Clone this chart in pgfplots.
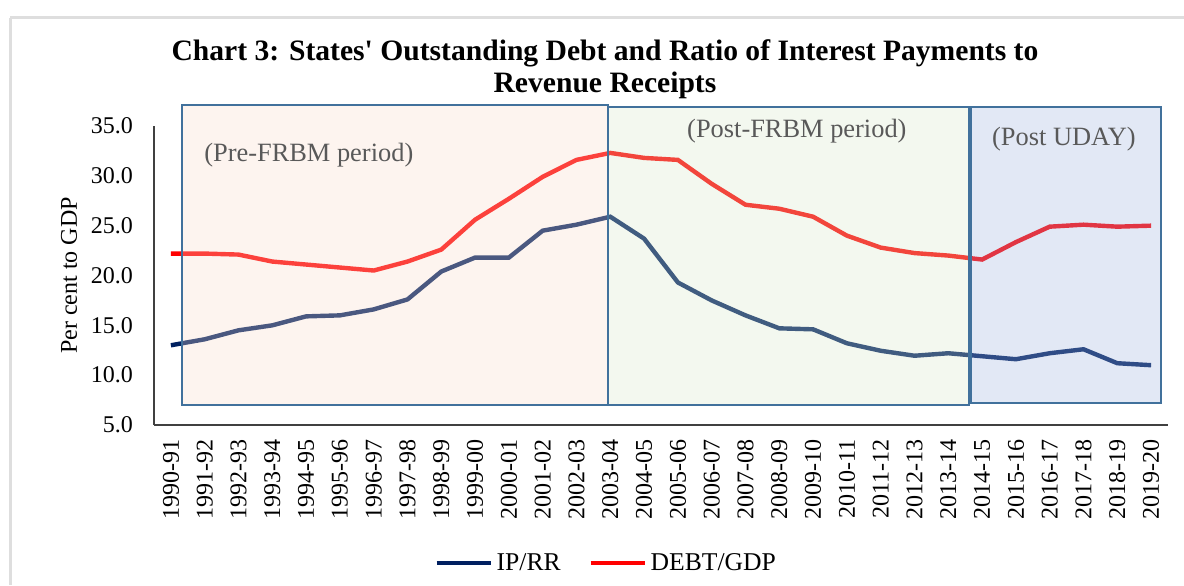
\documentclass[border=0pt]{standalone}
\usepackage{fontspec}
\setmainfont{Liberation Serif}
\newfontfamily\titlefont{Liberation Serif}
\usepackage{pgfplots}
\usepackage{pgfplotstable}
\pgfplotsset{compat=1.18}

\definecolor{navy}{HTML}{002060}
\definecolor{debtred}{HTML}{FF0000}
\definecolor{boxedge}{HTML}{41719C}
\definecolor{prefill}{RGB}{248,218,202}
\definecolor{postfill}{RGB}{215,232,202}
\definecolor{udayfill}{RGB}{158,178,222}
\definecolor{labgrey}{HTML}{595959}

% idx: 0 = 1990-91 ... 29 = 2019-20
\pgfplotstableread{
idx ip debt
0 13.0 22.2
1 13.6 22.2
2 14.5 22.1
3 15.0 21.4
4 15.9 21.1
5 16.0 20.8
6 16.6 20.5
7 17.6 21.4
8 20.4 22.6
9 21.8 25.6
10 21.8 27.7
11 24.5 29.9
12 25.1 31.6
13 25.9 32.3
14 23.7 31.8
15 19.3 31.6
16 17.5 29.2
17 16.0 27.1
18 14.7 26.7
19 14.6 25.9
20 13.2 24.0
21 12.45 22.8
22 11.95 22.25
23 12.2 22.0
24 11.9 21.6
25 11.6 23.35
26 12.2 24.9
27 12.6 25.1
28 11.2 24.9
29 11.0 25.0
}\data

\begin{document}
\begin{tikzpicture}[x=1pt,y=1pt]
\useasboundingbox (0,0) rectangle (592,292.5);
\draw[line width=1.5pt, black!13] (5,283.5) -- (592,283.5);
\draw[line width=1.5pt, black!13] (5,0) -- (5,283.5);
\node[font=\titlefont\bfseries\fontsize{14.8}{15.8}\selectfont, align=center] at (302.5,258)
  {Chart 3: States' Outstanding Debt and Ratio of Interest Payments to\\Revenue Receipts};
\begin{axis}[
  at={(77pt,80pt)}, anchor=south west,
  scale only axis,
  width=507pt, height=149.5pt,
  xmin=-0.5, xmax=29.5, ymin=5, ymax=35,
  clip=false,
  axis x line*=bottom, axis y line*=left,
  axis line style={draw=black!75, line width=0.6pt},
  major tick length=0pt,
  xtick={0,...,29},
  xticklabels={1990-91,1991-92,1992-93,1993-94,1994-95,1995-96,1996-97,1997-98,1998-99,1999-00,2000-01,2001-02,2002-03,2003-04,2004-05,2005-06,2006-07,2007-08,2008-09,2009-10,2010-11,2011-12,2012-13,2013-14,2014-15,2015-16,2016-17,2017-18,2018-19,2019-20},
  ytick={5,10,...,35},
  /pgf/number format/assume math mode=true,
  y tick label style={/pgf/number format/fixed, /pgf/number format/fixed zerofill, /pgf/number format/precision=1, xshift=-7pt},
  tick label style={font=\fontsize{12}{14}\selectfont},
  xticklabel style={yshift=-3.5pt, rotate=90, anchor=east},
  ylabel={Per cent to GDP},
  ylabel style={font=\fontsize{12}{14}\selectfont},
  legend style={at={(0.447,-0.462)}, anchor=center, draw=none, fill=none,
    legend columns=2, font=\fontsize{12.8}{14}\selectfont,
    /tikz/every even column/.append style={column sep=12pt}},
  legend image code/.code={\draw[#1, line width=2pt] (0pt,0pt) -- (27pt,0pt);},
]
\addplot[navy, line width=2.2pt] table[x=idx, y=ip] {\data};
\addlegendentry{IP/RR}
\addplot[debtred, line width=2.2pt] table[x=idx, y=debt] {\data};
\addlegendentry{DEBT/GDP}

\addplot[forget plot, fill=prefill, fill opacity=0.3, draw=boxedge, line width=1.2pt]
  coordinates {(0.33,7.0) (12.93,7.0) (12.93,37.1) (0.33,37.1)} -- cycle;
\addplot[forget plot, fill=postfill, fill opacity=0.3, draw=boxedge, line width=1.2pt]
  coordinates {(12.93,7.0) (23.62,7.0) (23.62,36.9) (12.93,36.9)} -- cycle;
\addplot[forget plot, fill=udayfill, fill opacity=0.3, draw=boxedge, line width=1.2pt]
  coordinates {(23.66,7.2) (29.3,7.2) (29.3,36.9) (23.66,36.9)} -- cycle;

\node[text=labgrey, font=\fontsize{13.2}{14}\selectfont] at (axis cs:4.08,32.1) {(Pre-FRBM period)};
\node[text=labgrey, font=\fontsize{13.2}{14}\selectfont] at (axis cs:18.52,34.5) {(Post-FRBM period)};
\node[text=labgrey, font=\fontsize{13.2}{14}\selectfont] at (axis cs:26.42,33.7) {(Post UDAY)};
\end{axis}
\end{tikzpicture}
\end{document}
